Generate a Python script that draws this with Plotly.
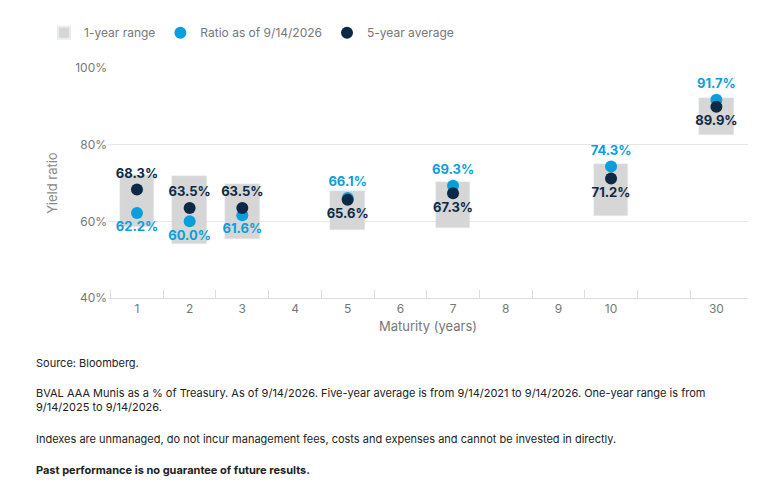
import plotly.graph_objects as go

maturity = ["1", "2", "3", "4", "5", "6", "7", "8", "9", "10", "30"]
xpos = [1, 2, 3, 4, 5, 6, 7, 8, 9, 10, 12]

pt_labels = ["1", "2", "3", "5", "7", "10", "30"]
pt_x = [1, 2, 3, 5, 7, 10, 12]
range_low = [58.5, 54.0, 55.5, 57.8, 58.3, 61.3, 82.6]
range_high = [72.0, 71.7, 69.8, 67.8, 70.2, 75.0, 92.3]
current = [62.2, 60.0, 61.6, 66.1, 69.3, 74.3, 91.7]
avg5 = [68.3, 63.5, 63.5, 65.6, 67.3, 71.2, 89.9]

ytick_vals = [40, 60, 80, 100]
ytick_text = ["40%", "60%", "80%", "100%"]

cur_pos = ["bottom center"] * 3 + ["top center"] * 4
avg_pos = ["top center"] * 3 + ["bottom center"] * 4

blue = "#0a9fdc"
navy = "#0c2a45"
grey = "#d6d6d6"

fig = go.Figure()
fig.add_trace(go.Bar(x=pt_x, y=[h - l for h, l in zip(range_high, range_low)], base=range_low,
                     width=0.66, marker_color=grey, name="1-year range", hoverinfo="skip"))
fig.add_trace(go.Scatter(x=pt_x, y=current, mode="markers+text", name="Ratio as of 9/14/2026",
                         marker=dict(color=blue, size=12),
                         text=[f"{v:.1f}%" for v in current], textposition=cur_pos,
                         textfont=dict(color=blue, size=13, family="Inter", weight="bold")))
fig.add_trace(go.Scatter(x=pt_x, y=avg5, mode="markers+text", name="5-year average",
                         marker=dict(color=navy, size=12),
                         text=[f"{v:.1f}%" for v in avg5], textposition=avg_pos,
                         textfont=dict(color=navy, size=13, family="Inter", weight="bold")))

notes = [
    (-0.245, "Source: Bloomberg."),
    (-0.375, "BVAL AAA Munis as a % of Treasury. As of 9/14/2026. Five-year average is from 9/14/2021 to 9/14/2026. One-year range is from<br>9/14/2025 to 9/14/2026."),
    (-0.575, "Indexes are unmanaged, do not incur management fees, costs and expenses and cannot be invested in directly."),
    (-0.71, "<b>Past performance is no guarantee of future results.</b>"),
]
for y, t in notes:
    fig.add_annotation(x=-0.115, y=y, xref="paper", yref="paper", text=t, showarrow=False,
                       xanchor="left", yanchor="top", align="left",
                       font=dict(size=11, color="#222", family="Inter"))

fig.update_layout(
    width=783, height=496, plot_bgcolor="white", paper_bgcolor="white",
    margin=dict(l=100, r=43, t=60, b=206, autoexpand=False),
    font=dict(family="Inter", color="#888"),
    showlegend=True,
    legend=dict(orientation="h", x=-0.1, y=1.09, xanchor="left", yanchor="bottom",
                font=dict(size=12, color="#777"), itemwidth=30, tracegroupgap=0,
                itemsizing="constant"),
    bargap=0,
)
fig.update_xaxes(range=[0.45, 12.6], tickvals=xpos, ticktext=maturity, showgrid=False,
                 automargin=False,
                 showline=True, linecolor="#ddd", ticks="", tickfont=dict(size=12, color="#777"),
                 minor=dict(tickvals=[0.5 + i for i in range(11)] + [11.5], ticks="inside",
                            ticklen=8, tickcolor="#ddd"),
                 title=dict(text="Maturity (years)", font=dict(size=13, color="#777"), standoff=6))
fig.update_yaxes(range=[40, 100], tickvals=ytick_vals, ticktext=ytick_text, automargin=False,
                 gridcolor="#e6e6e6", zeroline=False, tickfont=dict(size=12, color="#777"),
                 title=dict(text="Yield ratio", font=dict(size=13, color="#888"), standoff=14))

fig.write_html("out.html")
